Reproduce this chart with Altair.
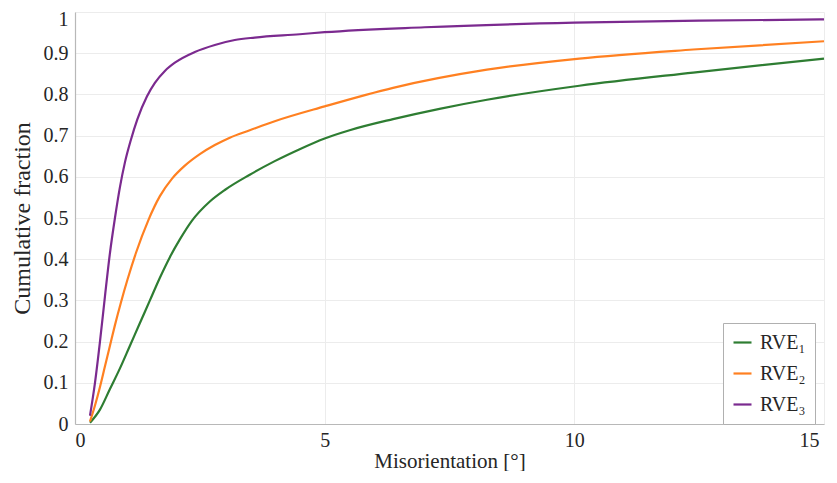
import altair as alt
import pandas as pd

# Data
rve1_x = [0.3, 0.5, 0.7, 0.9, 1.1, 1.3, 1.5, 1.7, 1.9, 2.1, 2.34, 2.7, 3.0, 3.5, 4.0, 4.5, 5.0, 5.5, 6.37, 7.3, 8.25, 10.1, 12.38, 15.0]
rve1_y = [0.003, 0.035, 0.085, 0.135, 0.19, 0.245, 0.30, 0.355, 0.405, 0.448, 0.493, 0.54, 0.568, 0.605, 0.638, 0.667, 0.693, 0.713, 0.740, 0.765, 0.787, 0.821, 0.853, 0.887]

rve2_x = [0.3, 0.4, 0.5, 0.6, 0.7, 0.8, 0.92, 1.05, 1.22, 1.47, 1.7, 1.94, 2.2, 2.5, 2.8, 3.1, 3.5, 4.0, 5.0, 6.37, 8.25, 10.1, 12.38, 15.0]
rve2_y = [0.006, 0.045, 0.09, 0.14, 0.19, 0.24, 0.295, 0.35, 0.415, 0.495, 0.553, 0.595, 0.627, 0.655, 0.677, 0.695, 0.713, 0.735, 0.771, 0.816, 0.86, 0.887, 0.909, 0.929]

rve3_x = [0.3, 0.4, 0.5, 0.6, 0.7, 0.8, 0.9, 1.0, 1.12, 1.25, 1.44, 1.6, 1.8, 2.0, 2.4, 2.8, 3.2, 3.6, 4.5, 5.0, 7.0, 10.0, 12.5, 15.0]
rve3_y = [0.02, 0.10, 0.20, 0.31, 0.415, 0.50, 0.575, 0.635, 0.69, 0.74, 0.795, 0.828, 0.857, 0.877, 0.903, 0.920, 0.932, 0.938, 0.946, 0.951, 0.963, 0.974, 0.979, 0.982]

series_names = ["RVE\u2081", "RVE\u2082", "RVE\u2083"]
series_colors = ["#2E7D32", "#FF8021", "#7B2A8F"]

x_ticks = [0, 5, 10, 15]
y_ticks = [0, 0.1, 0.2, 0.3, 0.4, 0.5, 0.6, 0.7, 0.8, 0.9, 1]

rows = []
for name, xs, ys in zip(series_names, [rve1_x, rve2_x, rve3_x], [rve1_y, rve2_y, rve3_y]):
    for i, (a, b) in enumerate(zip(xs, ys)):
        rows.append({"series": name, "x": a, "y": b, "order": i})
df = pd.DataFrame(rows)

FONT = "Liberation Serif"
TXT = "#262626"

chart = alt.Chart(df).mark_line(strokeWidth=2.2, interpolate="monotone").encode(
    x=alt.X("x:Q", scale=alt.Scale(domain=[0, 15], nice=False, zero=False),
            axis=alt.Axis(values=x_ticks, title="Misorientation [°]", format="d",
                          labelFont=FONT, labelFontSize=20, labelColor=TXT,
                          titleFont=FONT, titleFontSize=21, titleColor=TXT,
                          titleFontWeight="normal",
                          labelOffset={"condition": {"test": "datum.value == 15", "value": -5}, "value": 0},
                          labelPadding=6, titlePadding=0)),
    y=alt.Y("y:Q", scale=alt.Scale(domain=[0, 1], nice=False),
            axis=alt.Axis(values=y_ticks, title="Cumulative fraction",
                          labelExpr="datum.value == 0 ? '0' : datum.value == 1 ? '1' : format(datum.value, '.1f')",
                          labelFont=FONT, labelFontSize=20, labelColor=TXT,
                          titleFont=FONT, titleFontSize=24, titleColor=TXT,
                          titleFontWeight="normal",
                          labelOffset={"condition": {"test": "datum.value == 1", "value": 7}, "value": 0},
                          labelPadding=7, titlePadding=9)),
    color=alt.Color("series:N", scale=alt.Scale(domain=series_names, range=series_colors),
                    legend=alt.Legend(title=None, orient="none", legendX=648, legendY=311,
                                      symbolType="stroke",
                                      symbolStrokeWidth=2.2, symbolSize=324,
                                      labelFont=FONT, labelFontSize=20, labelColor=TXT,
                                      labelOffset=7,
                                      strokeColor="#b0b0b0", fillColor="white",
                                      padding=9, rowPadding=10,
                                      labelLimit=200)),
    order="order:Q",
).properties(
    width=749, height=412,
    autosize=alt.AutoSizeParams(type="none"),
    padding={"left": 67, "top": 4, "right": 5, "bottom": 47},
).configure(
    font=FONT,
).configure_axis(
    domainColor="#b8b8b8", domainWidth=1.2,
    ticks=False,
    gridColor="#ececec", gridWidth=1,
).configure_view(stroke=None)

chart.save("out.html", embed_options={"renderer": "svg", "actions": False})
